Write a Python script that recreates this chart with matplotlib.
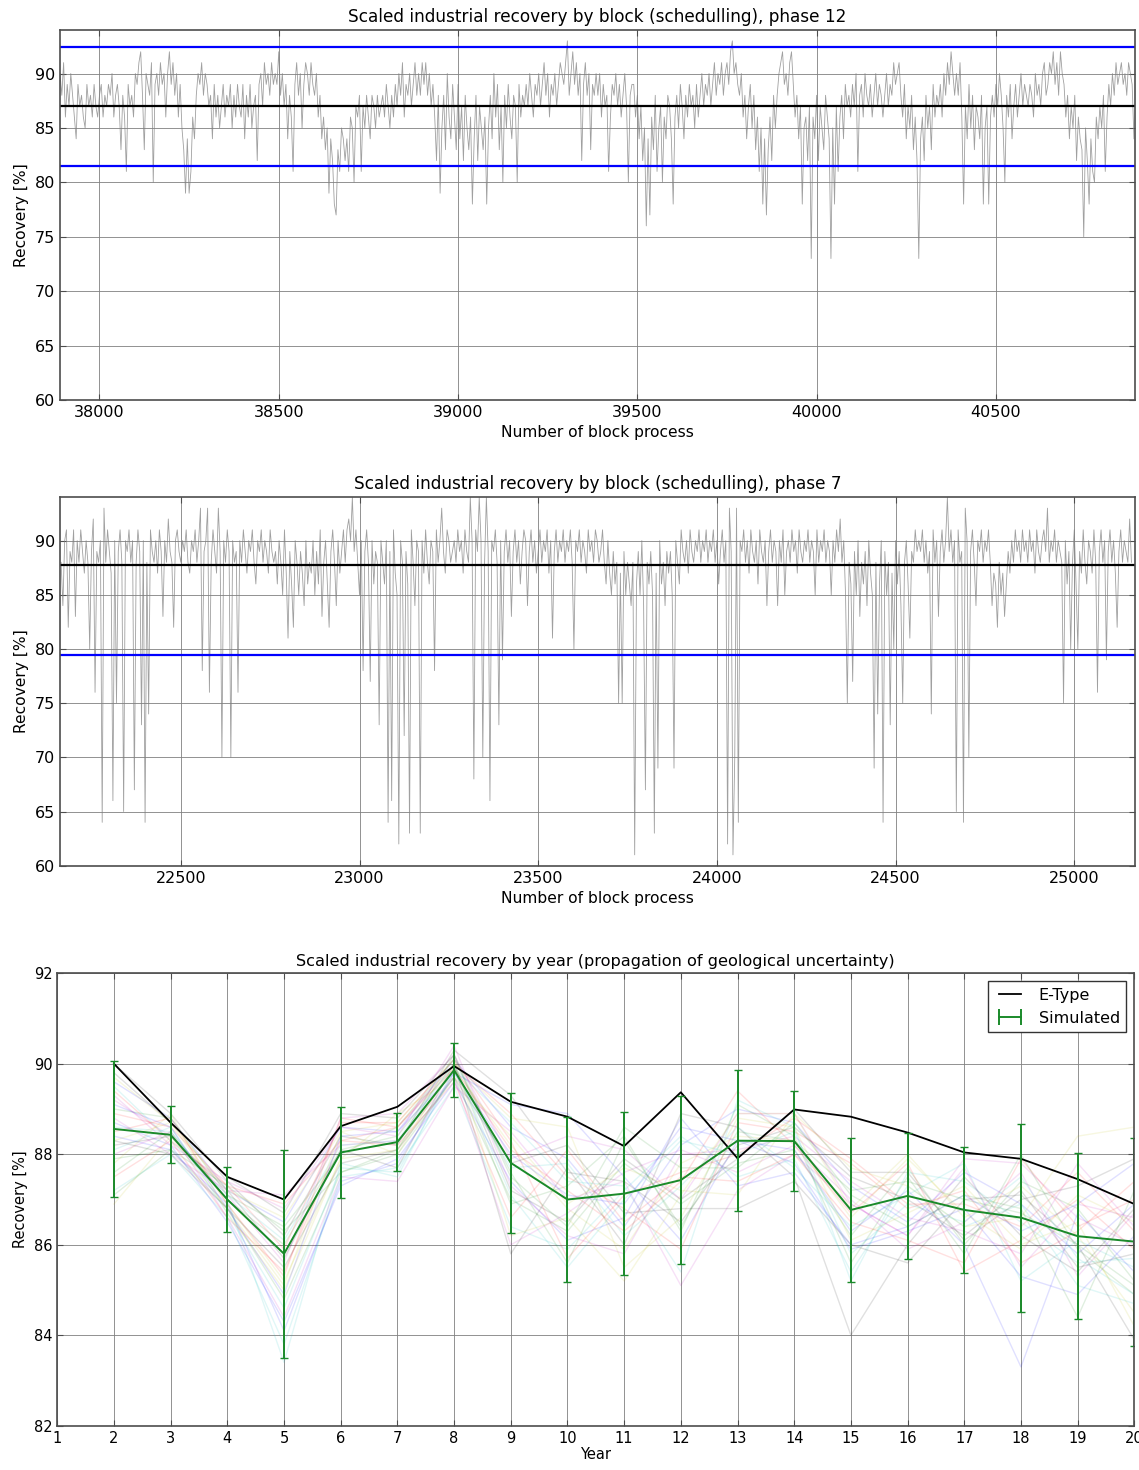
import numpy as np
import matplotlib
matplotlib.use('Agg')
import matplotlib.pyplot as plt
from matplotlib.ticker import MultipleLocator
from matplotlib.lines import Line2D

# recovery per block, phase 12 (one value every 5 blocks, from block 37890)
phase12_start = 37890
phase12_recovery = [
    90, 88, 91, 86, 89, 87, 90, 88, 86, 84, 89, 87, 88, 86, 85, 89, 87, 88, 86, 89,
    87, 86, 88, 89, 86, 88, 87, 89, 88, 90, 86, 88, 89, 87, 83, 88, 86, 81, 89, 87,
    88, 86, 90, 89, 91, 92, 88, 83, 90, 89, 88, 91, 80, 89, 90, 88, 91, 89, 90, 86,
    90, 92, 89, 91, 88, 90, 86, 89, 85, 83, 79, 84, 79, 81, 86, 84, 88, 90, 89, 91,
    88, 90, 89, 87, 88, 84, 89, 86, 88, 85, 87, 89, 86, 88, 87, 89, 85, 88, 86, 89,
    87, 86, 89, 84, 88, 86, 89, 85, 87, 88, 82, 89, 90, 87, 91, 89, 90, 88, 91, 89,
    90, 89, 92, 88, 90, 87, 89, 84, 88, 86, 81, 89, 91, 88, 90, 85, 89, 91, 90, 88,
    91, 89, 88, 90, 86, 88, 84, 86, 83, 85, 79, 84, 82, 78, 77, 83, 81, 85, 84, 82,
    84, 81, 86, 85, 80, 87, 86, 88, 81, 87, 85, 88, 86, 84, 88, 87, 85, 88, 86, 87,
    88, 86, 89, 87, 85, 88, 86, 89, 87, 90, 88, 91, 86, 89, 88, 90, 87, 89, 91, 88,
    90, 88, 91, 89, 91, 88, 90, 87, 89, 86, 82, 88, 79, 85, 88, 83, 90, 86, 84, 89,
    86, 83, 89, 84, 87, 82, 88, 85, 83, 86, 78, 84, 88, 82, 87, 85, 83, 86, 78, 85,
    88, 84, 90, 86, 89, 83, 87, 80, 88, 85, 89, 86, 84, 88, 87, 80, 89, 86, 88, 87,
    89, 87, 90, 88, 86, 89, 88, 90, 87, 89, 91, 88, 90, 86, 89, 88, 90, 87, 89, 91,
    90, 89, 91, 93, 88, 90, 92, 89, 91, 88, 90, 82, 89, 91, 88, 90, 83, 89, 88, 90,
    88, 90, 86, 89, 87, 88, 81, 86, 89, 88, 90, 87, 89, 86, 88, 90, 87, 80, 88, 89,
    89, 86, 88, 84, 87, 82, 85, 76, 84, 77, 86, 83, 88, 81, 85, 87, 80, 86, 84, 88,
    87, 84, 78, 86, 88, 85, 89, 87, 84, 88, 86, 89, 87, 88, 85, 89, 86, 88, 90, 87,
    89, 88, 90, 87, 89, 91, 88, 90, 89, 91, 88, 90, 91, 89, 92, 93, 90, 91, 89, 88,
    90, 86, 88, 84, 87, 89, 85, 88, 83, 86, 81, 85, 78, 84, 77, 83, 86, 82, 88, 85,
    88, 90, 91, 92, 89, 90, 88, 91, 92, 89, 86, 88, 84, 87, 78, 85, 86, 82, 87, 73,
    86, 84, 88, 82, 87, 85, 83, 88, 86, 84, 73, 85, 78, 87, 81, 86, 88, 84, 89, 87,
    88, 86, 89, 87, 90, 81, 88, 89, 86, 90, 88, 87, 89, 86, 88, 90, 87, 89, 88, 86,
    88, 90, 87, 89, 88, 91, 89, 90, 91, 88, 86, 89, 84, 87, 85, 88, 83, 86, 82, 73,
    84, 86, 82, 88, 85, 87, 83, 89, 86, 88, 87, 89, 86, 90, 88, 91, 89, 92, 90, 88,
    90, 88, 91, 86, 78, 87, 84, 89, 85, 88, 83, 87, 86, 84, 88, 78, 85, 87, 78, 86,
    88, 86, 89, 87, 90, 88, 85, 80, 88, 86, 89, 84, 87, 89, 86, 88, 90, 87, 89, 88,
    87, 89, 88, 86, 90, 88, 89, 87, 90, 91, 88, 89, 91, 90, 92, 89, 91, 88, 92, 90,
    89, 86, 88, 84, 87, 85, 88, 82, 86, 84, 83, 75, 85, 82, 78, 84, 81, 80, 86, 84,
    87, 85, 88, 81, 86, 89, 87, 90, 88, 91, 89, 90, 91, 89, 90, 88, 91, 90, 89, 84,
]
phase12_mean = 87.0
phase12_band = 5.47

# recovery per block, phase 7 (one value every 5 blocks, from block 22165)
phase7_start = 22165
phase7_recovery = [
    88, 84, 90, 91, 82, 89, 88, 91, 83, 90, 88, 91, 89, 87, 90, 88, 80, 89, 92, 76,
    89, 88, 90, 64, 93, 88, 91, 89, 87, 66, 90, 75, 89, 91, 88, 65, 90, 89, 91, 88,
    90, 67, 88, 91, 89, 73, 90, 64, 88, 74, 91, 89, 88, 90, 87, 91, 89, 83, 90, 88,
    92, 89, 88, 82, 90, 91, 89, 88, 90, 89, 91, 88, 87, 90, 89, 91, 88, 90, 93, 78,
    89, 90, 93, 76, 88, 91, 89, 87, 93, 89, 70, 90, 88, 91, 89, 70, 90, 88, 89, 76,
    90, 88, 91, 89, 87, 90, 89, 91, 88, 86, 90, 89, 91, 88, 90, 89, 87, 91, 89, 88,
    89, 86, 90, 88, 85, 91, 87, 81, 89, 86, 82, 90, 88, 85, 89, 87, 84, 90, 86, 88,
    87, 90, 85, 89, 86, 91, 83, 88, 90, 86, 82, 89, 91, 88, 84, 90, 87, 89, 91, 88,
    91, 92, 90, 94, 89, 91, 88, 85, 90, 78, 89, 91, 88, 77, 90, 86, 89, 88, 73, 90,
    88, 86, 90, 64, 89, 66, 91, 87, 85, 62, 90, 88, 72, 89, 86, 63, 91, 88, 84, 90,
    89, 63, 90, 87, 91, 88, 86, 90, 89, 78, 91, 88, 90, 93, 89, 87, 91, 90, 88, 89,
    90, 88, 91, 89, 90, 87, 91, 89, 88, 94, 90, 68, 91, 89, 94, 90, 70, 88, 94, 89,
    66, 90, 89, 91, 88, 73, 90, 79, 89, 91, 88, 90, 83, 89, 91, 88, 90, 86, 89, 91,
    90, 84, 89, 91, 88, 90, 87, 89, 91, 88, 90, 89, 91, 87, 90, 81, 89, 91, 88, 90,
    89, 91, 88, 90, 89, 91, 88, 80, 90, 89, 91, 88, 90, 89, 87, 91, 89, 90, 88, 91,
    90, 88, 89, 91, 88, 86, 90, 87, 85, 89, 86, 88, 75, 87, 75, 89, 85, 88, 86, 84,
    88, 61, 86, 89, 85, 90, 84, 67, 88, 86, 89, 85, 63, 87, 69, 90, 86, 88, 84, 89,
    87, 89, 85, 69, 90, 88, 86, 91, 89, 88, 90, 87, 91, 89, 88, 90, 89, 91, 88, 90,
    89, 91, 88, 90, 89, 91, 88, 90, 86, 89, 91, 88, 90, 62, 93, 89, 61, 70, 93, 64,
    90, 89, 91, 88, 90, 87, 91, 89, 88, 90, 86, 91, 89, 88, 90, 84, 89, 91, 88, 90,
    89, 84, 90, 88, 91, 85, 89, 90, 88, 91, 89, 90, 87, 91, 89, 88, 90, 89, 91, 88,
    90, 89, 85, 91, 88, 90, 89, 91, 88, 90, 89, 85, 90, 88, 91, 89, 92, 88, 90, 85,
    75, 88, 86, 77, 89, 85, 90, 83, 88, 86, 89, 84, 90, 87, 85, 69, 88, 74, 86, 90,
    64, 89, 85, 88, 73, 87, 80, 90, 86, 89, 84, 75, 88, 90, 86, 81, 89, 88, 91, 89,
    90, 89, 91, 88, 90, 87, 89, 74, 91, 88, 90, 83, 89, 91, 88, 90, 94, 89, 91, 88,
    90, 65, 91, 88, 89, 64, 93, 90, 70, 89, 91, 88, 84, 90, 89, 91, 88, 90, 89, 91,
    88, 84, 87, 86, 82, 88, 85, 87, 83, 86, 89, 87, 90, 88, 91, 89, 90, 88, 91, 89,
    90, 88, 91, 89, 90, 87, 91, 89, 88, 90, 91, 89, 93, 88, 90, 89, 91, 88, 90, 89,
    88, 75, 90, 86, 89, 80, 88, 91, 86, 80, 89, 87, 91, 88, 86, 90, 89, 87, 91, 88,
    76, 89, 91, 88, 90, 79, 89, 91, 88, 90, 87, 82, 89, 91, 88, 90, 89, 88, 92, 88,
]
phase7_mean = 87.75
phase7_band = 8.35

# yearly recovery
years = list(range(2, 21))
etype = [90.0, 88.7, 87.5, 87.0, 88.62, 89.05, 89.95, 89.16, 88.83, 88.18,
         89.37, 87.91, 88.99, 88.83, 88.48, 88.04, 87.9, 87.45, 86.9]
sim_mean = [88.56, 88.43, 87.0, 85.8, 88.04, 88.27, 89.86, 87.81, 87.0, 87.13,
            87.43, 88.3, 88.29, 86.77, 87.08, 86.77, 86.6, 86.19, 86.07]
sim_err = [1.5, 0.63, 0.72, 2.3, 1.0, 0.65, 0.6, 1.55, 1.82, 1.8,
           1.85, 1.56, 1.1, 1.6, 1.4, 1.4, 2.08, 1.83, 2.3]
realizations = [
    [89.6, 88.8, 87.2, 86.5, 88.6, 88.5, 90.1, 88.6, 87.9, 86.4, 88.2, 89.0, 88.7, 87.3, 86.5, 87.6, 86.9, 85.8, 86.9],
    [87.9, 88.1, 86.8, 84.8, 87.6, 88.0, 89.7, 87.0, 86.3, 87.8, 86.9, 87.8, 88.1, 86.2, 87.7, 86.0, 87.4, 86.8, 85.2],
    [88.9, 88.6, 87.3, 86.9, 88.3, 88.6, 90.0, 88.9, 87.5, 86.8, 85.9, 88.7, 88.5, 87.8, 86.8, 87.2, 85.6, 86.3, 87.4],
    [87.2, 88.0, 86.6, 83.8, 87.5, 87.7, 89.5, 86.4, 85.9, 87.2, 88.4, 87.5, 87.9, 85.4, 87.3, 86.4, 86.9, 85.1, 84.7],
    [89.2, 88.4, 87.1, 85.6, 88.8, 88.9, 90.2, 87.9, 88.4, 88.1, 87.0, 88.9, 88.9, 86.9, 86.2, 87.9, 87.8, 86.6, 86.0],
    [88.3, 88.7, 86.9, 85.2, 87.9, 88.1, 89.9, 88.2, 86.8, 85.9, 87.8, 88.4, 88.3, 86.6, 87.9, 86.7, 85.9, 87.1, 86.5],
    [90.0, 88.9, 87.4, 86.2, 88.4, 88.2, 90.3, 89.3, 87.6, 87.4, 86.5, 88.2, 88.6, 87.5, 87.0, 86.2, 87.2, 85.5, 85.8],
    [88.7, 88.2, 86.5, 84.3, 87.3, 87.9, 89.6, 87.4, 86.1, 86.6, 88.8, 87.3, 87.6, 86.0, 86.4, 87.1, 86.3, 86.9, 87.8],
    [87.6, 88.5, 87.0, 86.0, 88.1, 88.4, 90.0, 86.9, 87.3, 88.4, 86.3, 89.1, 88.4, 85.6, 87.5, 85.8, 88.0, 85.9, 84.9],
    [89.4, 88.3, 87.3, 85.9, 88.7, 88.7, 90.1, 88.3, 85.7, 87.1, 87.6, 88.0, 88.8, 87.9, 86.9, 86.9, 86.4, 87.6, 86.3],
    [88.1, 88.6, 86.7, 84.6, 87.7, 87.6, 89.8, 87.7, 87.8, 86.2, 87.3, 88.6, 87.7, 86.4, 87.1, 87.8, 85.2, 86.1, 85.5],
    [88.8, 88.0, 87.2, 87.1, 88.2, 88.3, 89.7, 86.0, 86.7, 87.6, 88.1, 87.6, 88.2, 87.0, 85.9, 86.5, 87.6, 85.3, 86.7],
    [86.9, 88.4, 86.8, 85.1, 88.5, 88.0, 90.0, 88.8, 88.6, 85.5, 86.6, 88.8, 88.6, 86.1, 86.7, 87.3, 86.0, 86.5, 84.2],
    [89.8, 88.7, 87.5, 86.7, 88.9, 88.8, 90.2, 87.2, 86.5, 87.9, 87.0, 87.9, 89.0, 87.6, 87.6, 86.1, 87.0, 87.3, 87.9],
    [88.4, 88.1, 86.9, 84.1, 87.4, 87.8, 89.8, 88.0, 87.1, 86.9, 88.6, 88.3, 87.8, 85.9, 86.3, 86.8, 85.3, 84.9, 86.2],
    [89.0, 88.8, 87.1, 86.4, 88.0, 88.6, 90.1, 87.6, 85.6, 88.3, 86.4, 88.5, 88.3, 87.2, 87.4, 87.0, 86.7, 86.0, 85.1],
    [87.5, 88.3, 86.6, 85.4, 88.3, 88.2, 89.6, 86.6, 88.1, 86.5, 87.5, 87.4, 88.0, 86.5, 86.1, 85.6, 87.9, 86.4, 87.0],
    [88.6, 88.5, 87.0, 83.4, 87.8, 87.5, 89.9, 88.7, 87.4, 87.3, 85.4, 89.2, 88.6, 85.2, 87.6, 87.4, 86.5, 85.6, 85.7],
    [89.3, 88.2, 87.4, 86.8, 88.6, 88.4, 90.4, 87.3, 86.2, 85.8, 88.0, 88.1, 88.4, 87.4, 86.6, 86.3, 85.8, 87.8, 86.4],
    [87.8, 88.9, 86.7, 85.0, 87.9, 88.9, 89.7, 88.4, 86.9, 87.7, 87.2, 87.1, 88.9, 86.8, 88.0, 86.6, 87.3, 86.2, 84.5],
    [88.2, 88.4, 87.2, 85.7, 88.1, 87.7, 90.0, 85.8, 87.7, 86.0, 88.9, 88.6, 87.5, 84.0, 86.0, 87.5, 86.2, 85.4, 86.8],
    [89.1, 88.6, 86.8, 84.9, 88.4, 88.5, 89.8, 89.1, 88.9, 87.5, 86.1, 88.3, 88.1, 86.3, 87.2, 86.0, 83.3, 86.7, 85.4],
    [87.1, 88.1, 87.3, 86.3, 87.6, 88.1, 90.2, 87.5, 86.4, 88.6, 87.7, 87.7, 88.7, 87.1, 86.4, 87.1, 86.8, 84.4, 87.2],
    [88.5, 88.8, 86.9, 85.3, 88.8, 88.6, 89.9, 88.1, 87.2, 86.3, 87.4, 89.4, 88.2, 86.7, 87.8, 85.4, 86.1, 87.0, 85.9],
    [89.5, 88.3, 87.1, 86.1, 88.2, 88.3, 90.0, 87.1, 85.5, 87.0, 88.3, 88.0, 88.5, 85.8, 86.9, 86.5, 87.5, 85.7, 84.9],
    [88.0, 88.5, 86.6, 84.4, 87.5, 87.4, 89.5, 88.5, 87.0, 87.4, 85.1, 87.2, 88.0, 86.9, 86.2, 87.7, 85.5, 86.9, 86.6],
    [89.7, 88.7, 87.2, 86.6, 88.5, 88.7, 90.1, 86.2, 86.6, 85.2, 87.1, 88.9, 88.9, 87.7, 87.3, 86.4, 86.6, 88.4, 88.6],
    [88.3, 88.0, 86.8, 85.5, 87.8, 88.1, 89.7, 87.8, 88.2, 86.7, 86.8, 86.8, 87.4, 86.0, 85.6, 87.0, 87.1, 86.0, 83.9],
]
sim_colors = ['b', 'g', 'r', 'c', 'm', 'y', 'k']
green = '#1a8a2a'


def style_axes(ax, labelsize):
    ax.grid(True, color='0.5', lw=0.6, ls='-')
    ax.set_axisbelow(True)
    ax.tick_params(direction='in', top=True, right=True, labelsize=labelsize,
                   length=4, color='0.3')
    for s in ax.spines.values():
        s.set_color('0.3')
        s.set_linewidth(1.2)


def block_panel(ax, start, values, mean, band, xlim, title):
    x = start + 5 * np.arange(len(values))
    ax.plot(x, values, color='0.5', lw=0.6, alpha=0.75)
    ax.axhline(mean, color='k', lw=1.6)
    ax.axhline(mean + band, color='b', lw=1.6)
    ax.axhline(mean - band, color='b', lw=1.6)
    ax.set_xlim(*xlim)
    ax.set_ylim(60, 94)
    ax.xaxis.set_major_locator(MultipleLocator(500))
    ax.yaxis.set_major_locator(MultipleLocator(5))
    ax.set_title(title, fontsize=12.2)
    ax.set_xlabel('Number of block process', fontsize=11.2)
    ax.set_ylabel('Recovery [%]', fontsize=11.2)
    style_axes(ax, 11.5)


fig = plt.figure(figsize=(11.39, 14.70), dpi=100)

ax1 = fig.add_axes([0.0527, 0.7279, 0.9438, 0.2517])
block_panel(ax1, phase12_start, phase12_recovery, phase12_mean, phase12_band,
            (37890, 40888), 'Scaled industrial recovery by block (schedulling), phase 12')

ax2 = fig.add_axes([0.0527, 0.4111, 0.9438, 0.2506])
block_panel(ax2, phase7_start, phase7_recovery, phase7_mean, phase7_band,
            (22162, 25170), 'Scaled industrial recovery by block (schedulling), phase 7')

ax3 = fig.add_axes([0.0503, 0.0301, 0.9456, 0.3078])
for i, r in enumerate(realizations):
    ax3.plot(years, r, color=sim_colors[i % 7], lw=1.0, alpha=0.12)
ax3.plot(years, etype, color='k', lw=1.3)
ax3.errorbar(years, sim_mean, yerr=sim_err, color=green, lw=1.4,
             capsize=3, elinewidth=1.4, capthick=1.0)
ax3.set_xlim(1, 20)
ax3.set_ylim(82, 92)
ax3.xaxis.set_major_locator(MultipleLocator(1))
ax3.yaxis.set_major_locator(MultipleLocator(2))
ax3.set_title('Scaled industrial recovery by year (propagation of geological uncertainty)',
              fontsize=11.6, pad=5)
ax3.set_xlabel('Year', fontsize=10.5, labelpad=1)
ax3.set_ylabel('Recovery [%]', fontsize=10.5)
style_axes(ax3, 10.5)

handles = [Line2D([], [], color='k', lw=1.3),
           Line2D([], [], color=green, lw=1.4, marker='|', markersize=12,
                  markeredgewidth=1.4)]
leg = ax3.legend(handles, ['E-Type', 'Simulated'], loc='upper right',
                 fontsize=11.5, numpoints=2, fancybox=False, framealpha=1,
                 edgecolor='0.2', borderaxespad=0.5)
leg.get_frame().set_linewidth(1.0)

fig.savefig('out.png', dpi=100)
